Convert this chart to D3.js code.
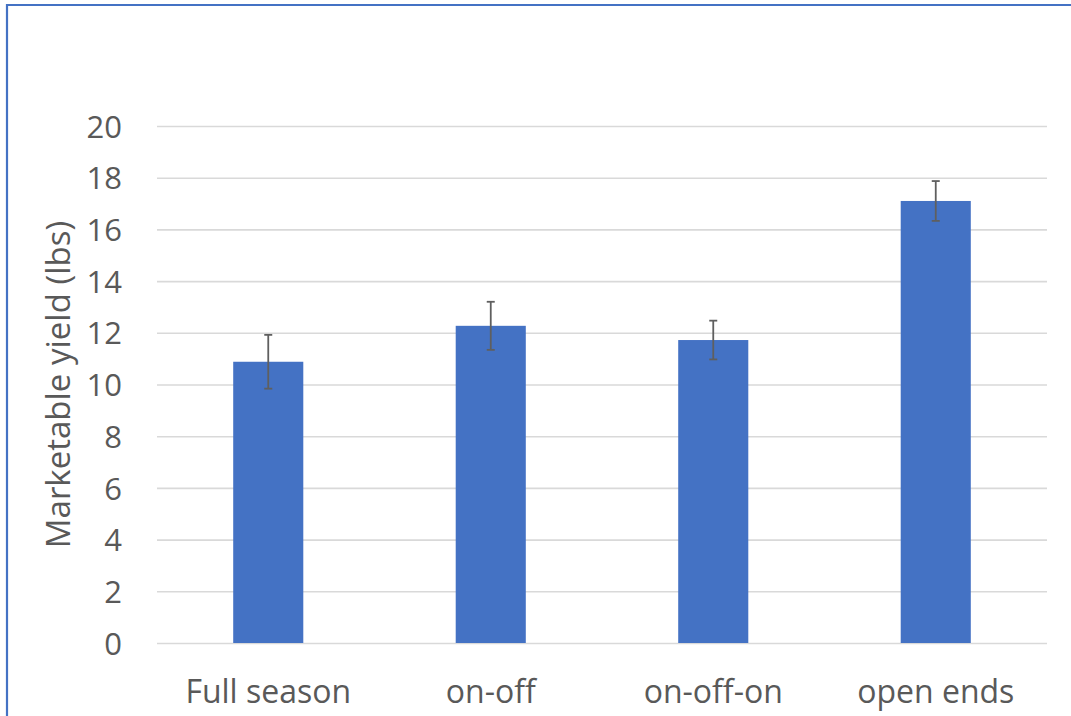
<!DOCTYPE html>
<html>
<head>
<meta charset="utf-8">
<script src="https://cdn.jsdelivr.net/npm/d3@7"></script>
<style>
  html, body { margin: 0; padding: 0; background: #fff; }
  svg { display: block; }
</style>
</head>
<body>
<script>
const categories = ["Full season", "on-off", "on-off-on", "open ends"];
const values = [10.88, 12.27, 11.72, 17.1];
const errors = [1.04, 0.93, 0.75, 0.77];
const yTicks = [0, 2, 4, 6, 8, 10, 12, 14, 16, 18, 20];
const yTitle = "Marketable yield (lbs)";

const W = 1071, H = 716;
const plot = { left: 157, right: 1047, top: 126, bottom: 643 };
const font = "'Open Sans', sans-serif";
const textColor = "#595959";

const svg = d3.select("body").append("svg")
  .attr("width", W).attr("height", H);

svg.append("rect").attr("width", W).attr("height", H).attr("fill", "#fff");

// frame (top & left blue edges)
svg.append("line").attr("x1", 6).attr("x2", W).attr("y1", 5).attr("y2", 5)
  .attr("stroke", "#4472C4").attr("stroke-width", 2.2);
svg.append("line").attr("x1", 7).attr("x2", 7).attr("y1", 4).attr("y2", H)
  .attr("stroke", "#4472C4").attr("stroke-width", 2.2);

const x = d3.scaleBand().domain(categories)
  .range([plot.left, plot.right])
  .paddingInner(0.685).paddingOuter(0.3425);
const y = d3.scaleLinear().domain([0, 20]).range([plot.bottom, plot.top]);

// gridlines
const yAxis = d3.axisLeft(y).tickValues(yTicks)
  .tickSize(-(plot.right - plot.left)).tickPadding(35).tickFormat(d3.format("d"));
const gy = svg.append("g").attr("transform", `translate(${plot.left},0)`).call(yAxis);
gy.select(".domain").remove();
gy.selectAll(".tick line").attr("stroke", "#d9d9d9").attr("stroke-width", 1.6);
gy.selectAll(".tick text").attr("fill", textColor)
  .style("font-family", font).style("font-size", "31px")
  .attr("dy", "0.36em");

// bars
svg.append("g").selectAll("rect").data(categories).join("rect")
  .attr("x", d => x(d))
  .attr("width", x.bandwidth())
  .attr("y", (d, i) => y(values[i]))
  .attr("height", (d, i) => y(0) - y(values[i]))
  .attr("fill", "#4472C4");

// error bars
const eb = svg.append("g").attr("stroke", "#5f5f5f").attr("stroke-width", 1.8);
categories.forEach((c, i) => {
  const cx = x(c) + x.bandwidth() / 2;
  const y1 = y(values[i] + errors[i]), y2 = y(values[i] - errors[i]);
  eb.append("line").attr("x1", cx).attr("x2", cx).attr("y1", y1).attr("y2", y2);
  eb.append("line").attr("x1", cx - 4).attr("x2", cx + 4).attr("y1", y1).attr("y2", y1);
  eb.append("line").attr("x1", cx - 4).attr("x2", cx + 4).attr("y1", y2).attr("y2", y2);
});

// x-axis labels
const xAxis = d3.axisBottom(x).tickSize(0).tickPadding(0);
const gx = svg.append("g").attr("transform", `translate(0,${plot.bottom})`).call(xAxis);
gx.select(".domain").remove();
gx.selectAll(".tick text").attr("fill", textColor)
  .style("font-family", font).style("font-size", "32px")
  .attr("y", 60).attr("dy", 0);

// y title
svg.append("text")
  .attr("transform", `translate(70,${(plot.top + plot.bottom) / 2}) rotate(-90)`)
  .attr("text-anchor", "middle")
  .attr("fill", textColor)
  .style("font-family", font).style("font-size", "33px")
  .text(yTitle);
</script>
</body>
</html>
